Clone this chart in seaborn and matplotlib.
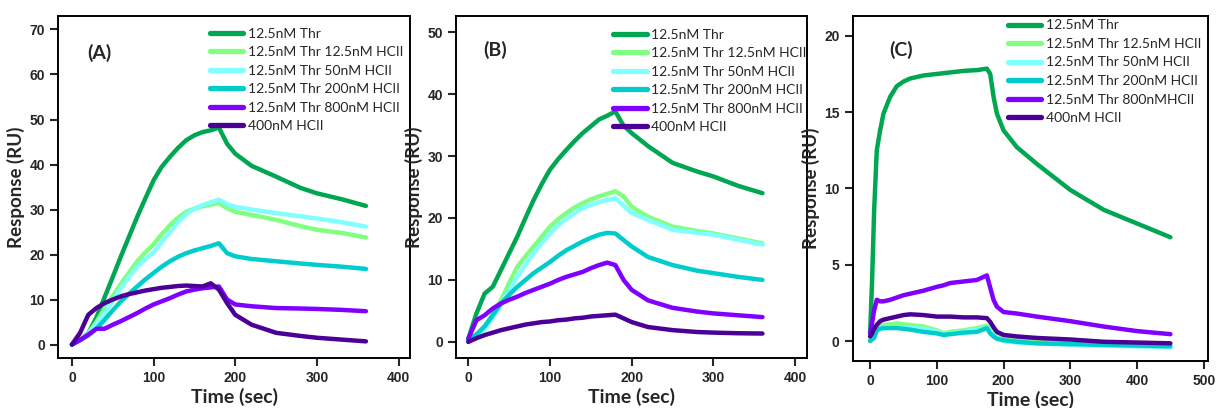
import numpy as np
import pandas as pd
import matplotlib
matplotlib.use("Agg")
import matplotlib.pyplot as plt
import seaborn as sns

# Etiquetas de las series
labels_ab = ['12.5nM Thr', '12.5nM Thr 12.5nM HCII', '12.5nM Thr 50nM HCII',
             '12.5nM Thr 200nM HCII', '12.5nM Thr 800nM HCII', '400nM HCII']
labels_c = ['12.5nM Thr', '12.5nM Thr 12.5nM HCII', '12.5nM Thr 50nM HCII',
            '12.5nM Thr 200nM HCII', '12.5nM Thr 800nMHCII', '400nM HCII']
colores = ['#00A651', '#80FF80', '#80FFFF', '#00CCCC', '#8000FF', '#4B0096']

# Tiempo (sec) para paneles A y B
t_ab = [0, 10, 20, 30, 40, 50, 60, 70, 80, 90, 100, 110, 120, 130, 140, 150, 160, 170, 180,
        190, 200, 220, 250, 280, 300, 330, 360]

# Panel A
thr_A = [0, 1, 2.5, 6, 10.5, 15, 19.6, 24, 28.4, 32.5, 36.5, 39.5, 41.7, 43.7, 45.4, 46.5, 47.2, 47.6, 48.2,
         44.6, 42.4, 39.7, 37.3, 34.8, 33.6, 32.3, 30.8]
hcii125_A = [0, 1, 2.5, 5, 8, 10.8, 13.5, 16, 18.5, 20.5, 22.3, 24.5, 26.5, 28.2, 29.5, 30.2, 30.7, 31.1, 31.4,
             30.3, 29.5, 28.8, 27.7, 26.3, 25.5, 24.8, 23.8]
hcii50_A = [0, 1, 2.3, 4.5, 7, 9.8, 12.5, 15, 17.3, 19, 20.5, 22.8, 25, 27.2, 29, 30.2, 31, 31.6, 32.2,
            31.2, 30.6, 30, 29.2, 28.5, 28, 27.2, 26.2]
hcii200_A = [0, 1, 2, 3.5, 5.5, 7.6, 9.6, 11.3, 12.9, 14.5, 15.9, 17.3, 18.5, 19.5, 20.3, 20.9, 21.4, 21.9, 22.5,
             20.3, 19.6, 19, 18.5, 18, 17.7, 17.3, 16.8]
hcii800_A = [0, 1, 2.2, 3.5, 3.5, 4.4, 5.2, 6.1, 7, 8, 8.9, 9.6, 10.3, 11.1, 11.8, 12.2, 12.5, 12.7, 12.9,
             10, 8.9, 8.5, 8.1, 8, 7.9, 7.7, 7.4]
hcii400_A = [0, 2.6, 6.6, 8.1, 9.2, 10, 10.7, 11.2, 11.6, 12, 12.3, 12.6, 12.8, 13, 13.1, 13, 12.9, 13.6, 12.2,
             9.2, 6.6, 4.4, 2.6, 1.9, 1.5, 1.1, 0.7]

# Panel B
thr_B = [0.5, 4.6, 7.8, 8.9, 11.6, 14.3, 17, 20, 22.9, 25.5, 27.8, 29.5, 31, 32.4, 33.7, 34.8, 35.9, 36.5, 37.2,
         34.9, 33.7, 31.6, 28.9, 27.5, 26.7, 25.2, 24]
hcii125_B = [0.3, 1.2, 2.5, 4.5, 6.7, 9.5, 12.1, 13.8, 15.4, 17, 18.6, 19.8, 20.8, 21.7, 22.4, 23, 23.5, 23.9, 24.3,
             23.5, 21.8, 20.2, 18.6, 17.9, 17.5, 16.7, 15.9]
hcii50_B = [0.2, 1, 2, 4, 6, 8.3, 10.5, 12.5, 14.3, 16, 17.5, 18.8, 19.9, 20.8, 21.6, 22.1, 22.6, 22.9, 23.2,
            np.nan, 20.8, 19.7, 18.1, 17.6, 17.3, 16.5, 15.7]
hcii200_B = [0.3, 1.2, 2.5, 4.3, 6.2, 7.6, 8.9, 10, 11.1, 12, 12.9, 13.9, 14.8, 15.5, 16.2, 16.8, 17.3, 17.6, 17.5,
             np.nan, 15.4, 13.7, 12.4, 11.5, 11.1, 10.5, 10]
hcii800_B = [0.5, 3.5, 4.3, 5.4, 6.2, 6.8, 7.3, 7.9, 8.4, 8.9, 9.4, 10, 10.5, 10.9, 11.3, 11.9, 12.4, 12.8, 12.4,
             10, 8.4, 6.7, 5.5, 4.9, 4.6, 4.3, 4]
hcii400_B = [0, 0.6, 1.1, 1.5, 1.9, 2.2, 2.5, 2.8, 3, 3.2, 3.3, 3.5, 3.6, 3.8, 3.9, 4.1, 4.2, 4.3, 4.4,
             3.8, 3.2, 2.4, 1.9, 1.6, 1.5, 1.4, 1.35]

# Panel C
t_c = [0, 3, 6, 10, 15, 20, 30, 40, 50, 60, 80, 100, 110, 120, 140, 160, 175, 180, 185, 190, 200,
       220, 250, 300, 350, 400, 450]
thr_C = [0.5, 4, 8.5, 12.5, 13.8, 14.9, 16, 16.7, 17, 17.2, 17.4, 17.5, 17.55, 17.6, 17.7, 17.75, 17.85, 17.5,
         16, 14.9, 13.8, 12.7, 11.6, 9.9, 8.6, 7.7, 6.8]
hcii125_C = [0.1, 0.3, 0.5, 0.85, 1, 1.05, 1.1, 1.15, 1.1, 1.05, 0.95, 0.7, 0.5, 0.6, 0.7, 0.85, 1, 0.7,
             0.45, 0.3, 0.15, 0.05, -0.05, -0.15, -0.2, -0.25, -0.35]
hcii50_C = [0, 0.2, 0.4, 0.7, 0.85, 0.9, 0.9, 0.9, 0.88, 0.85, 0.8, 0.6, 0.4, 0.5, 0.6, 0.75, 0.85, 0.6,
            0.35, 0.2, 0, -0.1, -0.15, -0.25, -0.3, -0.35, -0.4]
hcii200_C = [0, 0.1, 0.2, 0.7, 0.8, 0.85, 0.85, 0.85, 0.8, 0.75, 0.6, 0.5, 0.4, 0.45, 0.55, 0.6, 0.85, 0.5,
             0.3, 0.15, 0.05, -0.05, -0.15, -0.2, -0.25, -0.3, -0.35]
hcii800_C = [0.5, 1.2, 2, 2.7, 2.6, 2.6, 2.7, 2.85, 3, 3.1, 3.3, 3.55, 3.65, 3.8, 3.9, 4, 4.3, 3.5,
             2.7, 2.25, 1.9, 1.8, 1.6, 1.3, 0.95, 0.65, 0.45]
hcii400_C = [0.3, 0.5, 0.8, 1.05, 1.3, 1.4, 1.5, 1.6, 1.7, 1.75, 1.7, 1.6, 1.6, 1.6, 1.55, 1.55, 1.5, 1.25,
             0.9, 0.6, 0.4, 0.3, 0.2, 0.1, -0.05, -0.1, -0.15]

sns.set_style('ticks')
plt.rcParams['font.family'] = ['Lato', 'DejaVu Sans']

fig = plt.figure(figsize=(12.17, 4.08), dpi=100)

paneles = [
    ('(A)', t_ab, [thr_A, hcii125_A, hcii50_A, hcii200_A, hcii800_A, hcii400_A], labels_ab,
     [0.0477, 0.1225, 0.2892, 0.8383], (-17, 414), (-3, 73), [0, 100, 200, 300, 400], range(0, 71, 10),
     (0.082, 0.892), (0.432, 0.966)),
    ('(B)', t_ab, [thr_B, hcii125_B, hcii50_B, hcii200_B, hcii800_B, hcii400_B], labels_ab,
     [0.3747, 0.1225, 0.2884, 0.8383], (-15, 414.5), (-2.6, 52.6), [0, 100, 200, 300, 400], range(0, 51, 10),
     (0.077, 0.90), (0.448, 0.963)),
    ('(C)', t_c, [thr_C, hcii125_C, hcii50_C, hcii200_C, hcii800_C, hcii400_C], labels_c,
     [0.7007, 0.1159, 0.2917, 0.8450], (-26, 506), (-1.29, 21.3), [0, 100, 200, 300, 400, 500], range(0, 21, 5),
     (0.102, 0.901), (0.436, 0.99)),
]

for titulo, t, series, nombres, pos, xlim, ylim, xt, yt, tpos, lpos in paneles:
    ax = fig.add_axes(pos)
    for vals, nombre, col in zip(series, nombres, colores):
        sns.lineplot(x=t, y=vals, ax=ax, color=col, lw=3.2, label=nombre)
    ax.set_xlim(xlim)
    ax.set_ylim(ylim)
    ax.set_xticks(xt)
    ax.set_yticks(list(yt))
    for s in ax.spines.values():
        s.set_linewidth(1.4)
        s.set_color('black')
    ax.tick_params(direction='out', length=6, width=1.5, labelsize=10)
    for lab in ax.get_xticklabels() + ax.get_yticklabels():
        lab.set_fontfamily('Liberation Sans')
        lab.set_fontweight('bold')
    ax.set_xlabel('Time (sec)', fontsize=14, fontweight='bold', labelpad=2)
    ax.set_ylabel('Response (RU)', fontsize=13.5, fontweight='bold', labelpad=3)
    ax.text(tpos[0], tpos[1], titulo, transform=ax.transAxes, fontsize=14, fontweight='bold',
            ha='left', va='center')
    leg = ax.legend(loc='upper left', bbox_to_anchor=lpos, frameon=False, fontsize=10,
                    borderpad=0, borderaxespad=0, handlelength=2.4, handletextpad=0.35,
                    labelspacing=0.47)
    for h in leg.get_lines():
        h.set_linewidth(3.8)

plt.savefig('out.png', dpi=100)
